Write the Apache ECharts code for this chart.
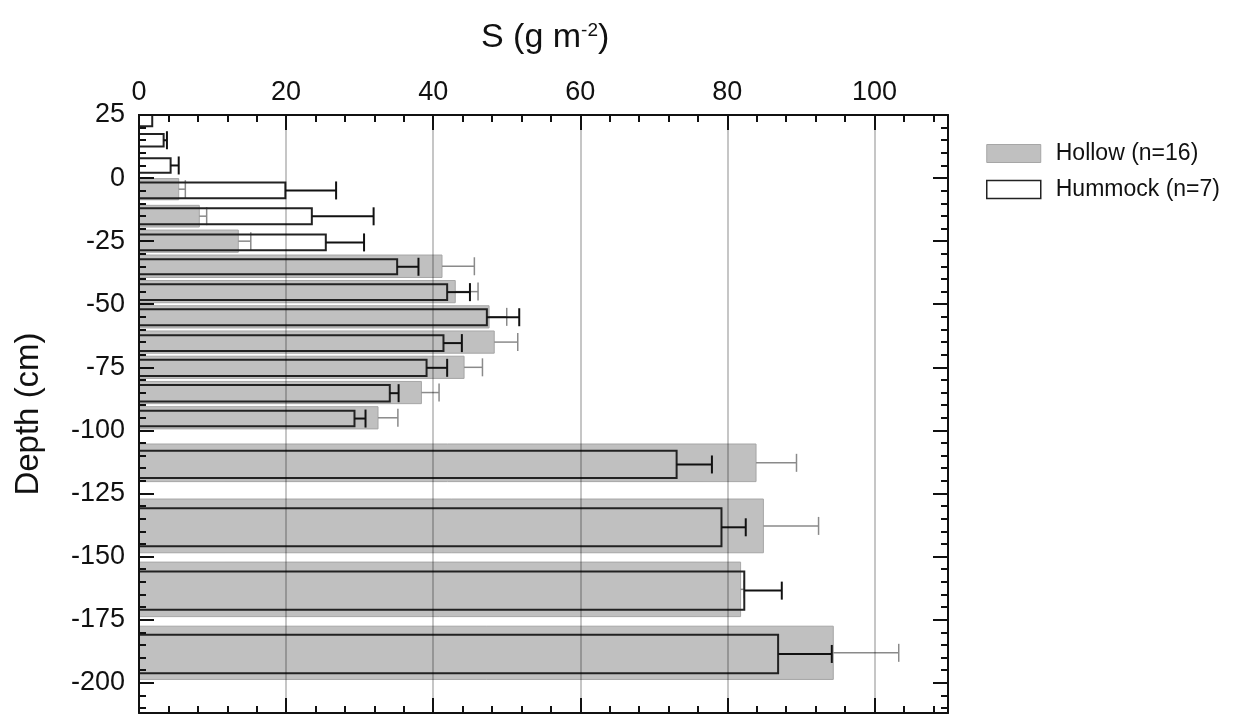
<!DOCTYPE html>
<html>
<head>
<meta charset="utf-8">
<script src="https://cdn.jsdelivr.net/npm/echarts@6.0.0/dist/echarts.min.js"></script>
<style>
html, body { margin: 0; padding: 0; background: #fff; }
#chart { width: 1238px; height: 717px; }
</style>
</head>
<body>
<div id="chart"></div>
<script>
// depth layers (cm) and S (g m-2) mean + SE
var hollowTop    = [-0.2, -10.8, -20.6, -30.5, -40.6, -50.6, -60.6, -70.6, -80.6, -90.6, -105.4, -127.2, -152.2, -177.6];
var hollowBottom = [-8.6, -19.4, -29.4, -39.4, -49.4, -59.4, -69.4, -79.4, -89.4, -99.4, -120.3, -148.5, -173.8, -198.7];
var hollowMean   = [5.4, 8.2, 13.5, 41.2, 43.0, 47.6, 48.3, 44.2, 38.4, 32.5, 83.9, 84.9, 81.8, 94.4];
var hollowSE     = [0.9, 1.0, 1.7, 4.4, 3.1, 2.4, 3.2, 2.5, 2.4, 2.7, 5.5, 7.5, 0.5, 8.9];

var hummockTop    = [25, 17.5, 7.9, -1.8, -12.0, -22.4, -32.2, -42.1, -52.0, -62.3, -72.0, -82.0, -92.2, -108.1, -130.9, -155.9, -181.0];
var hummockBottom = [20.5, 12.5, 2.1, -8.0, -18.3, -28.6, -38.1, -48.3, -58.3, -68.5, -78.4, -88.5, -98.4, -118.9, -145.9, -171.1, -196.2];
var hummockMean   = [1.8, 3.35, 4.3, 19.9, 23.5, 25.4, 35.1, 41.9, 47.3, 41.4, 39.1, 34.1, 29.3, 73.1, 79.2, 82.3, 86.9];
var hummockSE     = [0, 0.45, 1.1, 6.9, 8.4, 5.2, 2.9, 3.1, 4.4, 2.5, 2.8, 1.2, 1.5, 4.8, 3.3, 5.1, 7.3];

var xMajor = [0, 20, 40, 60, 80, 100];
var xMinor = [4, 8, 12, 16, 24, 28, 32, 36, 44, 48, 52, 56, 64, 68, 72, 76, 84, 88, 92, 96, 104, 108];
var yMajor = [25, 0, -25, -50, -75, -100, -125, -150, -175, -200];
var yMinor = [];
for (var d = 20; d >= -210; d -= 5) {
    if (d % 25 != 0) yMinor.push(d);
}

var FONT = '"Liberation Sans", Arial, sans-serif';

function rows(mean, top, bot, se) {
    var out = [];
    mean.forEach(function(v, i) {
        out.push([v, top[i], bot[i], se[i]]);
    });
    return out;
}

function barItem(fill, stroke, lw, errColor, errWidth) {
    return function(params, api) {
        var mean = api.value(0), top = api.value(1), bot = api.value(2), se = api.value(3);
        var a = api.coord([0, top]);
        var b = api.coord([mean, bot]);
        var kids = [{
            type: 'rect',
            shape: { x: a[0], y: a[1], width: b[0] - a[0], height: b[1] - a[1] },
            style: { fill: fill, stroke: stroke, lineWidth: lw }
        }];
        if (se > 0) {
            var mid = (top + bot) / 2;
            var m = api.coord([mean, mid]);
            var e = api.coord([mean + se, mid]);
            kids.push({ type: 'line', shape: { x1: m[0], y1: m[1], x2: e[0], y2: e[1] }, style: { stroke: errColor, lineWidth: errWidth } });
            kids.push({ type: 'line', shape: { x1: e[0], y1: e[1] - 9, x2: e[0], y2: e[1] + 9 }, style: { stroke: errColor, lineWidth: errWidth } });
        }
        return { type: 'group', children: kids };
    };
}

function xAx(pos, ticks, len, main) {
    return {
        type: 'value', position: pos, min: 0, max: 110, interval: 20, z: 5,
        axisLine: { show: main, onZero: false, lineStyle: { color: '#111', width: 2 } },
        axisTick: { show: true, inside: true, length: len, customValues: ticks, lineStyle: { color: '#111', width: 2 } },
        axisLabel: { show: main && pos == 'top', customValues: xMajor, fontSize: 27, fontFamily: FONT, color: '#111', margin: 9 },
        splitLine: { show: main && pos == 'top', lineStyle: { color: 'rgba(0,0,0,0.3)', width: 1.5 } }
    };
}

function yAx(pos, ticks, len, main) {
    var ax = {
        type: 'value', position: pos, min: -212, max: 25, z: 5,
        axisLine: { show: main, onZero: false, lineStyle: { color: '#111', width: 2 } },
        axisTick: { show: true, inside: true, length: len, customValues: ticks, lineStyle: { color: '#111', width: 2 } },
        axisLabel: { show: main && pos == 'left', customValues: yMajor, fontSize: 27, fontFamily: FONT, color: '#111', margin: 14 },
        splitLine: { show: false }
    };
    if (main && pos == 'left') {
        ax.name = 'Depth (cm)';
        ax.nameLocation = 'middle';
        ax.nameGap = 94;
        ax.nameTextStyle = { fontSize: 33, fontFamily: FONT, color: '#111' };
    }
    return ax;
}

var chart = echarts.init(document.getElementById('chart'));

var option = {
    backgroundColor: '#fff',
    animation: false,
    title: {
        text: 'S (g m{sup|-2})',
        left: 476,
        top: 16,
        textStyle: {
            fontSize: 34, fontWeight: 'normal', fontFamily: FONT, color: '#111',
            rich: { sup: { fontSize: 19, fontFamily: FONT, color: '#111', verticalAlign: 'top' } }
        }
    },
    legend: {
        orient: 'vertical', left: 986, top: 142, padding: 0,
        itemWidth: 54, itemHeight: 18, itemGap: 13, selectedMode: false,
        textStyle: { fontSize: 23, fontFamily: FONT, color: '#111', padding: [0, 0, 0, 10] },
        data: [
            { name: 'Hollow (n=16)', icon: 'rect', itemStyle: { color: '#c0c0c0', borderColor: '#a6a6a6', borderWidth: 1 } },
            { name: 'Hummock (n=7)', icon: 'rect', itemStyle: { color: '#fff', borderColor: '#222', borderWidth: 1.5 } }
        ]
    },
    grid: { left: 139, top: 115, width: 809, height: 598 },
    xAxis: [
        xAx('top', xMajor, 15, true),
        xAx('top', xMinor, 7, false),
        xAx('bottom', xMajor, 15, true),
        xAx('bottom', xMinor, 7, false)
    ],
    yAxis: [
        yAx('left', yMajor, 15, true),
        yAx('left', yMinor, 7, false),
        yAx('right', yMajor, 15, true),
        yAx('right', yMinor, 7, false)
    ],
    series: [
        {
            name: 'Hollow (n=16)',
            type: 'custom',
            xAxisIndex: 0, yAxisIndex: 0,
            itemStyle: { color: '#c0c0c0' },
            encode: { x: [0, 3], y: [1, 2] },
            renderItem: barItem('#c0c0c0', '#a6a6a6', 1, '#8a8a8a', 1.5),
            data: rows(hollowMean, hollowTop, hollowBottom, hollowSE)
        },
        {
            name: 'Hummock (n=7)',
            type: 'custom',
            xAxisIndex: 0, yAxisIndex: 0,
            itemStyle: { color: '#fff' },
            encode: { x: [0, 3], y: [1, 2] },
            renderItem: barItem('rgba(0,0,0,0)', '#222', 2, '#111', 2),
            data: rows(hummockMean, hummockTop, hummockBottom, hummockSE)
        }
    ]
};

chart.setOption(option);
</script>
</body>
</html>
